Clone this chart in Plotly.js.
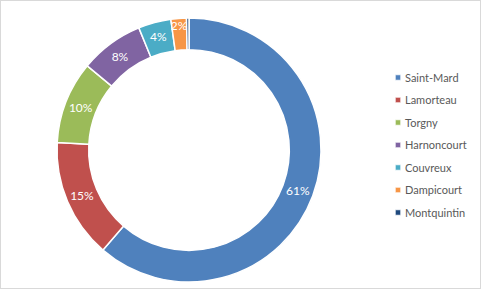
<!DOCTYPE html>
<html>
<head>
<meta charset="utf-8">
<script src="https://cdn.plot.ly/plotly-3.0.1.min.js"></script>
<style>
  html, body { margin: 0; padding: 0; background: #fff; }
  #wrap { position: relative; width: 481px; height: 289px; }
  #chart { width: 481px; height: 289px; }
  #frame { position: absolute; left: 0; top: 0; width: 481px; height: 289px; box-sizing: border-box; border: 1px solid #d9d9d9; pointer-events: none; }
</style>
</head>
<body>
<div id="wrap"><div id="chart"></div><div id="frame"></div></div>
<script>
const categories = ['Saint-Mard', 'Lamorteau', 'Torgny', 'Harnoncourt', 'Couvreux', 'Dampicourt', 'Montquintin'];
const shares = [61.3, 14.6, 10.1, 7.8, 4.0, 1.9, 0.3];
const sliceColors = ['#4F81BD', '#C0504D', '#9BBB59', '#8064A2', '#4BACC6', '#F79646', '#1F497D'];
const showLabel = [true, true, true, true, true, true, false];

const W = 481, H = 289;
const cx = 189, cy = 150, R = 132;

const trace = {
  type: 'pie',
  labels: categories,
  values: shares,
  sort: false,
  direction: 'clockwise',
  rotation: 0,
  hole: 0.76,
  marker: { colors: sliceColors, line: { color: '#ffffff', width: 1.5 } },
  texttemplate: showLabel.map(s => s ? '%{percent:.0%}' : ''),
  textposition: 'inside',
  insidetextorientation: 'horizontal',
  insidetextfont: { family: 'Lato, "Open Sans", sans-serif', size: 12, color: '#ffffff' },
  domain: { x: [(cx - R) / W, (cx + R) / W], y: [(H - cy - R) / H, (H - cy + R) / H] },
  hoverinfo: 'label+percent'
};

const layout = {
  width: W, height: H,
  margin: { l: 0, r: 0, t: 0, b: 0 },
  paper_bgcolor: '#ffffff',
  uniformtext: { mode: 'show', minsize: 12 },
  showlegend: true,
  legend: {
    x: 365 / W, xanchor: 'left',
    y: (H - 63) / H, yanchor: 'top',
    font: { family: 'Lato, "Open Sans", sans-serif', size: 11, color: '#595959' },
    bgcolor: 'rgba(0,0,0,0)'
  }
};

function tweakLegend() {
  const gd = document.getElementById('chart');
  gd.querySelectorAll('.legend .scrollbox').forEach(s => s.removeAttribute('clip-path'));
  gd.querySelectorAll('.legend .legendpoints path').forEach(p => {
    p.setAttribute('transform', 'translate(33,0) scale(0.45)');
  });
  gd.querySelectorAll('.legend .traces').forEach((g, i) => {
    const t = g.getAttribute('transform') || '';
    const m = /translate\(\s*([-\d.]+)[ ,]+([-\d.]+)\s*\)/.exec(t);
    if (m && !g.dataset.adj) {
      const x = parseFloat(m[1]), y = parseFloat(m[2]);
      g.setAttribute('transform', 'translate(' + x + ',' + (y + i * 3.5) + ')');
      g.dataset.adj = '1';
    }
  });
}

Plotly.newPlot('chart', [trace], layout, { displayModeBar: false, staticPlot: true }).then(gd => {
  tweakLegend();
  gd.on('plotly_afterplot', tweakLegend);
});
</script>
</body>
</html>
